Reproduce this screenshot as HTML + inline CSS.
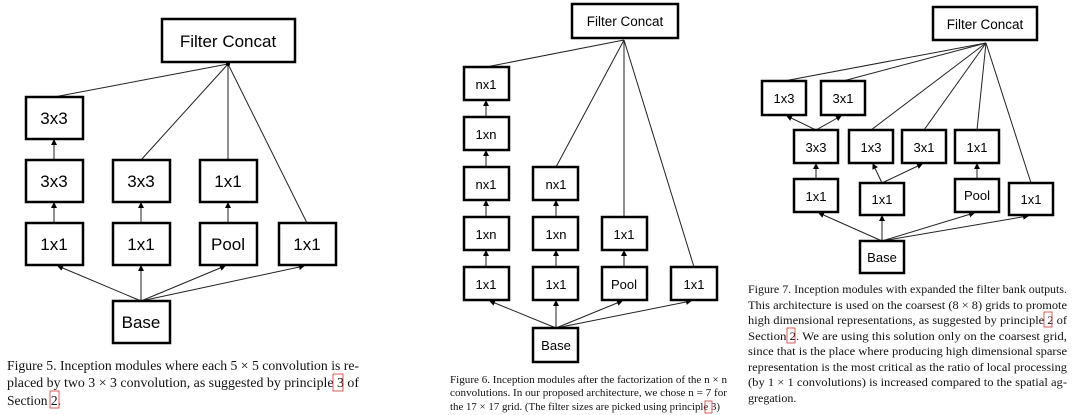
<!DOCTYPE html>
<html><head><meta charset="utf-8"><style>
html,body{margin:0;padding:0;background:#fff;}
svg{display:block}
.b{fill:#fff;stroke:#000;stroke-width:2.5}
.l{stroke:#222;stroke-width:1;fill:none}
.t{font-family:"Liberation Sans",sans-serif;text-anchor:middle;fill:#000}
.c{font-family:"Liberation Serif",serif;fill:#111}
.r{fill:none;stroke:#e03030;stroke-width:0.8}
</style></head><body>
<svg width="1080" height="415" viewBox="0 0 1080 415" xmlns="http://www.w3.org/2000/svg">
<defs><marker id="a" markerWidth="6" markerHeight="6" refX="5" refY="3" orient="auto" markerUnits="userSpaceOnUse"><path d="M0,0L6,3L0,6z" fill="#000"/></marker></defs>

<!-- FIGURE 5 -->
<g class="l">
<line x1="54" y1="97" x2="228" y2="64"/>
<line x1="141" y1="160" x2="228" y2="64"/>
<line x1="228" y1="160" x2="228" y2="64"/>
<line x1="307" y1="223" x2="228" y2="64"/>
<line x1="54" y1="160" x2="54" y2="140" marker-end="url(#a)"/>
<line x1="54" y1="223" x2="54" y2="203" marker-end="url(#a)"/>
<line x1="141" y1="223" x2="141" y2="203" marker-end="url(#a)"/>
<line x1="228" y1="223" x2="228" y2="203" marker-end="url(#a)"/>
<line x1="141" y1="301" x2="58" y2="266" marker-end="url(#a)"/>
<line x1="141" y1="301" x2="141" y2="266" marker-end="url(#a)"/>
<line x1="141" y1="301" x2="225" y2="266" marker-end="url(#a)"/>
<line x1="141" y1="301" x2="304" y2="266" marker-end="url(#a)"/>
</g>
<circle cx="228" cy="64" r="2"/>
<rect class="b" x="162" y="19" width="133" height="43"/><text class="t" x="228" y="47" font-size="17">Filter Concat</text>
<rect class="b" x="26" y="97" width="57" height="42"/><text class="t" x="54" y="124" font-size="17">3x3</text>
<rect class="b" x="26" y="160" width="57" height="42"/><text class="t" x="54" y="187" font-size="17">3x3</text>
<rect class="b" x="113" y="160" width="57" height="42"/><text class="t" x="141" y="187" font-size="17">3x3</text>
<rect class="b" x="200" y="160" width="57" height="42"/><text class="t" x="228" y="187" font-size="17">1x1</text>
<rect class="b" x="26" y="223" width="57" height="42"/><text class="t" x="54" y="250" font-size="17">1x1</text>
<rect class="b" x="113" y="223" width="57" height="42"/><text class="t" x="141" y="250" font-size="17">1x1</text>
<rect class="b" x="200" y="223" width="57" height="42"/><text class="t" x="228" y="250" font-size="17">Pool</text>
<rect class="b" x="279" y="223" width="57" height="42"/><text class="t" x="307" y="250" font-size="17">1x1</text>
<rect class="b" x="113" y="301" width="57" height="42"/><text class="t" x="141" y="328" font-size="17">Base</text>
<g class="c" font-size="13.5">
<text x="7" y="370" textLength="352" lengthAdjust="spacingAndGlyphs">Figure 5. Inception modules where each 5 × 5 convolution is re-</text>
<text x="7" y="387" textLength="352" lengthAdjust="spacingAndGlyphs">placed by two 3 × 3 convolution, as suggested by principle 3 of</text>
<text x="7" y="405">Section 2.</text>
</g>
<rect class="r" x="333" y="374" width="10" height="17"/><rect class="r" x="50" y="391" width="9" height="17"/>

<!-- FIGURE 6 -->
<g class="l">
<line x1="486" y1="67" x2="624" y2="40"/>
<line x1="556" y1="167" x2="624" y2="40"/>
<line x1="624" y1="217" x2="624" y2="40"/>
<line x1="694" y1="267" x2="624" y2="40"/>
<line x1="486" y1="117" x2="486" y2="101" marker-end="url(#a)"/>
<line x1="486" y1="167" x2="486" y2="151" marker-end="url(#a)"/>
<line x1="486" y1="217" x2="486" y2="201" marker-end="url(#a)"/>
<line x1="486" y1="267" x2="486" y2="251" marker-end="url(#a)"/>
<line x1="556" y1="217" x2="556" y2="201" marker-end="url(#a)"/>
<line x1="556" y1="267" x2="556" y2="251" marker-end="url(#a)"/>
<line x1="624" y1="267" x2="624" y2="251" marker-end="url(#a)"/>
<line x1="556" y1="328" x2="490" y2="301" marker-end="url(#a)"/>
<line x1="556" y1="328" x2="556" y2="301" marker-end="url(#a)"/>
<line x1="556" y1="328" x2="622" y2="301" marker-end="url(#a)"/>
<line x1="556" y1="328" x2="691" y2="301" marker-end="url(#a)"/>
</g>
<rect class="b" x="572" y="4" width="106" height="34"/><text class="t" x="625" y="26" font-size="13.5">Filter Concat</text>
<rect class="b" x="464" y="67" width="45" height="33"/><text class="t" x="486" y="89" font-size="13">nx1</text>
<rect class="b" x="464" y="117" width="45" height="33"/><text class="t" x="486" y="139" font-size="13">1xn</text>
<rect class="b" x="464" y="167" width="45" height="33"/><text class="t" x="486" y="189" font-size="13">nx1</text>
<rect class="b" x="533" y="167" width="45" height="33"/><text class="t" x="556" y="189" font-size="13">nx1</text>
<rect class="b" x="464" y="217" width="45" height="33"/><text class="t" x="486" y="239" font-size="13">1xn</text>
<rect class="b" x="533" y="217" width="45" height="33"/><text class="t" x="556" y="239" font-size="13">1xn</text>
<rect class="b" x="602" y="217" width="45" height="33"/><text class="t" x="624" y="239" font-size="13">1x1</text>
<rect class="b" x="464" y="267" width="45" height="33"/><text class="t" x="486" y="289" font-size="13">1x1</text>
<rect class="b" x="533" y="267" width="45" height="33"/><text class="t" x="556" y="289" font-size="13">1x1</text>
<rect class="b" x="602" y="267" width="45" height="33"/><text class="t" x="624" y="289" font-size="13">Pool</text>
<rect class="b" x="671" y="267" width="46" height="33"/><text class="t" x="694" y="289" font-size="13">1x1</text>
<rect class="b" x="533" y="328" width="45" height="34"/><text class="t" x="556" y="350" font-size="13">Base</text>
<g class="c" font-size="11">
<text x="450" y="383" textLength="277" lengthAdjust="spacingAndGlyphs">Figure 6. Inception modules after the factorization of the n × n</text>
<text x="450" y="396" textLength="277" lengthAdjust="spacingAndGlyphs">convolutions. In our proposed architecture, we chose n = 7 for</text>
<text x="450" y="410" textLength="270" lengthAdjust="spacingAndGlyphs">the 17 × 17 grid. (The filter sizes are picked using principle 3)</text>
</g>
<rect class="r" x="705" y="401" width="7" height="12"/>

<!-- FIGURE 7 -->
<g class="l">
<line x1="784" y1="81" x2="986" y2="43"/>
<line x1="843" y1="81" x2="986" y2="43"/>
<line x1="871" y1="130" x2="986" y2="43"/>
<line x1="924" y1="130" x2="986" y2="43"/>
<line x1="977" y1="130" x2="986" y2="43"/>
<line x1="1031" y1="183" x2="986" y2="43"/>
<line x1="816" y1="130" x2="787" y2="116" marker-end="url(#a)"/>
<line x1="816" y1="130" x2="841" y2="116" marker-end="url(#a)"/>
<line x1="816" y1="179" x2="816" y2="164" marker-end="url(#a)"/>
<line x1="882" y1="183" x2="873" y2="164" marker-end="url(#a)"/>
<line x1="882" y1="183" x2="922" y2="164" marker-end="url(#a)"/>
<line x1="977" y1="179" x2="977" y2="164" marker-end="url(#a)"/>
<line x1="882" y1="241" x2="819" y2="213" marker-end="url(#a)"/>
<line x1="882" y1="241" x2="882" y2="216" marker-end="url(#a)"/>
<line x1="882" y1="241" x2="974" y2="213" marker-end="url(#a)"/>
<line x1="882" y1="241" x2="1028" y2="216" marker-end="url(#a)"/>
</g>
<rect class="b" x="933" y="7" width="104" height="33"/><text class="t" x="985" y="29" font-size="13.5">Filter Concat</text>
<rect class="b" x="762" y="81" width="44" height="34"/><text class="t" x="784" y="103" font-size="13">1x3</text>
<rect class="b" x="821" y="81" width="44" height="34"/><text class="t" x="843" y="103" font-size="13">3x1</text>
<rect class="b" x="794" y="130" width="44" height="33"/><text class="t" x="816" y="152" font-size="13">3x3</text>
<rect class="b" x="849" y="130" width="44" height="33"/><text class="t" x="871" y="152" font-size="13">1x3</text>
<rect class="b" x="902" y="130" width="44" height="33"/><text class="t" x="924" y="152" font-size="13">3x1</text>
<rect class="b" x="955" y="130" width="44" height="33"/><text class="t" x="977" y="152" font-size="13">1x1</text>
<rect class="b" x="794" y="179" width="44" height="33"/><text class="t" x="816" y="201" font-size="13">1x1</text>
<rect class="b" x="860" y="183" width="44" height="32"/><text class="t" x="882" y="204" font-size="13">1x1</text>
<rect class="b" x="955" y="179" width="44" height="33"/><text class="t" x="977" y="200" font-size="13">Pool</text>
<rect class="b" x="1009" y="183" width="44" height="32"/><text class="t" x="1031" y="204" font-size="13">1x1</text>
<rect class="b" x="860" y="241" width="44" height="32"/><text class="t" x="882" y="262" font-size="13">Base</text>
<g class="c" font-size="12">
<text x="748" y="293" textLength="319" lengthAdjust="spacingAndGlyphs">Figure 7. Inception modules with expanded the filter bank outputs.</text>
<text x="748" y="309" textLength="319" lengthAdjust="spacingAndGlyphs">This architecture is used on the coarsest (8 × 8) grids to promote</text>
<text x="748" y="324" textLength="319" lengthAdjust="spacingAndGlyphs">high dimensional representations, as suggested by principle 2 of</text>
<text x="748" y="340" textLength="319" lengthAdjust="spacingAndGlyphs">Section 2. We are using this solution only on the coarsest grid,</text>
<text x="748" y="355" textLength="319" lengthAdjust="spacingAndGlyphs">since that is the place where producing high dimensional sparse</text>
<text x="748" y="371" textLength="319" lengthAdjust="spacingAndGlyphs">representation is the most critical as the ratio of local processing</text>
<text x="748" y="386" textLength="319" lengthAdjust="spacingAndGlyphs">(by 1 × 1 convolutions) is increased compared to the spatial ag-</text>
<text x="748" y="402">gregation.</text>
</g>
<rect class="r" x="1044" y="312" width="8" height="15"/><rect class="r" x="787" y="328" width="8" height="15"/>
</svg>
</body></html>
